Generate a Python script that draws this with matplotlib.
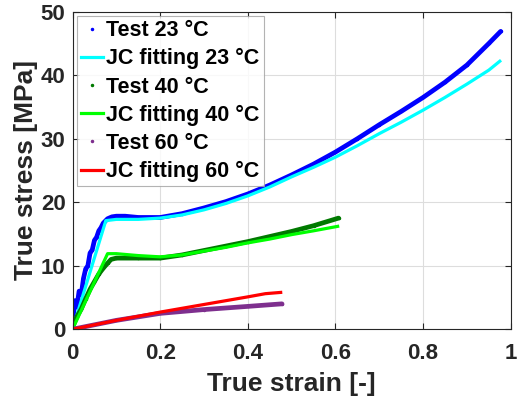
import matplotlib
matplotlib.use("Agg")
import matplotlib.pyplot as plt

plt.rcParams['font.family'] = ['Liberation Sans', 'DejaVu Sans']
plt.rcParams['font.weight'] = 'bold'

# Test 23 C
t23_x = [0, 0.005, 0.01, 0.015, 0.02, 0.025, 0.03, 0.035, 0.04, 0.045, 0.05, 0.055,
         0.06, 0.065, 0.07, 0.08, 0.09, 0.1, 0.12, 0.15, 0.2, 0.25, 0.3, 0.35, 0.4,
         0.45, 0.5, 0.55, 0.6, 0.65, 0.7, 0.75, 0.8, 0.85, 0.9, 0.95, 0.977]
t23_y = [0.3, 4.5, 3.5, 6.0, 5.5, 8.0, 9.5, 10.0, 12.0, 12.5, 14.0, 14.5,
         15.5, 16.0, 16.7, 17.4, 17.7, 17.8, 17.8, 17.6, 17.6, 18.2, 19.1, 20.1, 21.3,
         22.7, 24.3, 26.0, 27.9, 30.0, 32.2, 34.3, 36.5, 38.9, 41.6, 45.0, 46.9]
# JC fitting 23 C
jc23_x = [0, 0.076, 0.1, 0.15, 0.2, 0.25, 0.3, 0.35, 0.4, 0.45, 0.5, 0.55, 0.6,
          0.65, 0.7, 0.75, 0.8, 0.85, 0.9, 0.95, 0.975]
jc23_y = [0, 17.1, 17.3, 17.3, 17.5, 18.0, 18.8, 19.8, 21.0, 22.4, 24.0, 25.5, 27.1,
          28.9, 30.8, 32.6, 34.5, 36.5, 38.6, 40.8, 42.2]
# Test 40 C
t40_x = [0, 0.01, 0.02, 0.03, 0.04, 0.05, 0.06, 0.07, 0.08, 0.088, 0.1, 0.15, 0.2,
         0.25, 0.3, 0.35, 0.4, 0.45, 0.5, 0.55, 0.607]
t40_y = [0.3, 2.0, 3.2, 4.8, 6.3, 7.5, 8.7, 9.6, 10.4, 11.0, 11.2, 11.2, 11.2,
         11.7, 12.4, 13.1, 13.8, 14.6, 15.4, 16.3, 17.5]
# JC fitting 40 C
jc40_x = [0, 0.08, 0.1, 0.15, 0.2, 0.25, 0.3, 0.35, 0.4, 0.45, 0.5, 0.55, 0.605]
jc40_y = [0, 11.9, 11.9, 11.6, 11.4, 11.7, 12.3, 12.9, 13.6, 14.2, 14.9, 15.5, 16.2]
# Test 60 C
t60_x = [0, 0.1, 0.2, 0.3, 0.4, 0.478]
t60_y = [0, 1.4, 2.5, 3.1, 3.6, 4.0]
# JC fitting 60 C
jc60_x = [0, 0.1, 0.2, 0.3, 0.4, 0.44, 0.475]
jc60_y = [0, 1.4, 2.7, 3.9, 5.1, 5.6, 5.8]

fig = plt.figure(figsize=(5.18, 4.03), dpi=100)
ax = fig.add_axes([0.140, 0.183, 0.846, 0.788])

series = [
    (t23_x, t23_y, jc23_x, jc23_y, '#0000ff', '#00ffff', '23'),
    (t40_x, t40_y, jc40_x, jc40_y, '#007a00', '#00ff00', '40'),
    (t60_x, t60_y, jc60_x, jc60_y, '#7e2f8e', '#ff0000', '60'),
]
for tx, ty, jx, jy, ct, cj, lab in series:
    ax.plot(tx, ty, '-', color=ct, lw=3.4, solid_capstyle='round',
            solid_joinstyle='round')
    ax.plot(tx, ty, '.', color=ct, ms=3, label='Test %s \u00b0C' % lab)
    ax.plot(jx, jy, '-', color=cj, lw=2.3, label='JC fitting %s \u00b0C' % lab,
            solid_joinstyle='round')

ax.set_xlim(0, 1)
ax.set_ylim(0, 50)
ax.set_xticks([0, 0.2, 0.4, 0.6, 0.8, 1])
ax.set_xticklabels(['0', '0.2', '0.4', '0.6', '0.8', '1'])
ax.set_yticks([0, 10, 20, 30, 40, 50])
ax.grid(True, color='#dddddd', lw=0.8)
ax.set_axisbelow(True)
ax.tick_params(direction='in', top=True, right=True, labelsize=16,
               colors='#262626', length=4)
ax.tick_params(axis='x', pad=10)
ax.tick_params(axis='y', pad=5)
for s in ax.spines.values():
    s.set_color('#262626')
ax.set_xlabel('True strain [-]', fontsize=19, fontweight='bold', color='#262626',
              labelpad=6)
ax.set_ylabel('True stress [MPa]', fontsize=19, fontweight='bold', color='#262626',
              labelpad=2)

leg = ax.legend(loc='upper left', fontsize=15.5, frameon=True, fancybox=False,
                edgecolor='#a0a0a0', handlelength=1.0, handletextpad=0.15,
                borderpad=0.2, labelspacing=0.33, borderaxespad=0.2,
                markerscale=1)
leg.get_frame().set_linewidth(0.8)

fig.savefig('out.png', dpi=100)
